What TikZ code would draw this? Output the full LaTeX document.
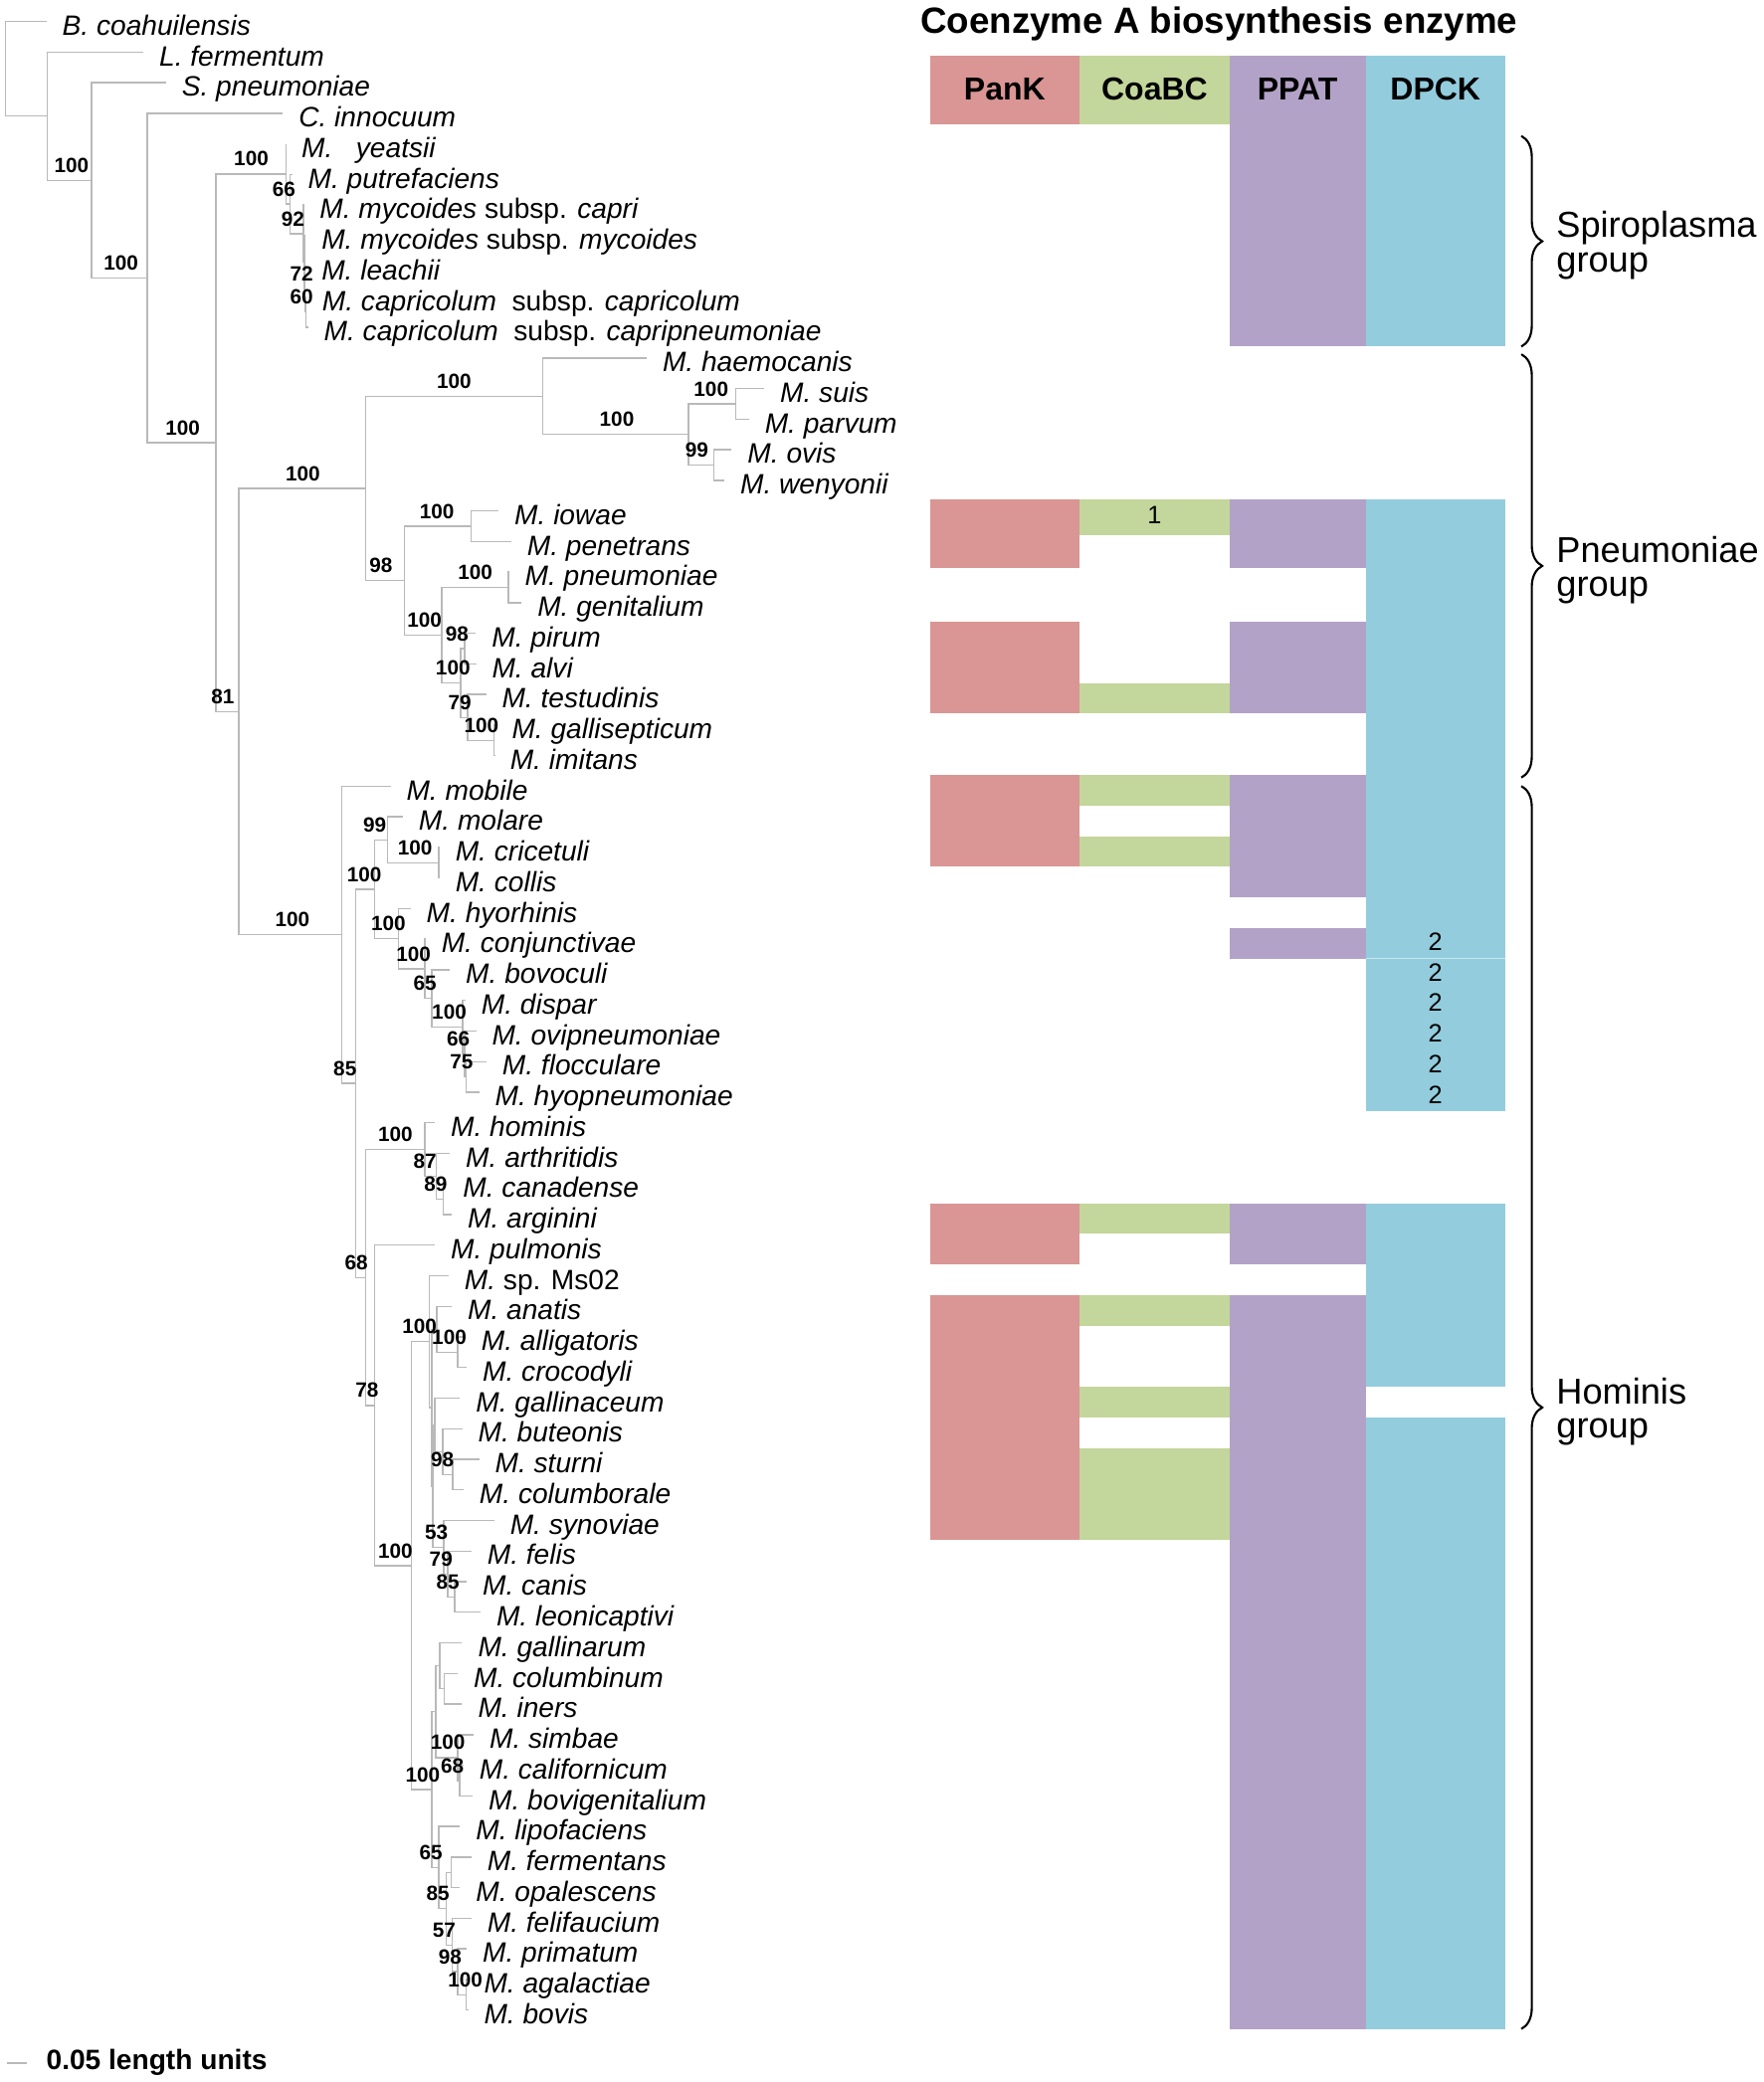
\documentclass[tikz,border=0pt]{standalone}
\usepackage{fontspec}
\setmainfont{Liberation Sans}
\usetikzlibrary{positioning}
\usetikzlibrary{decorations.pathreplacing}

\definecolor{pank}{RGB}{217,150,148}
\definecolor{coabc}{RGB}{195,214,155}
\definecolor{ppat}{RGB}{179,162,199}
\definecolor{dpck}{RGB}{147,205,221}
\definecolor{branchgray}{RGB}{185,185,185}

\begin{document}
\begin{tikzpicture}
    [x=0.13343mm, y=-3.07423mm,
    branch/.style={draw=branchgray, line width=0.4pt},
    taxon/.style={anchor=base west, inner sep=0pt, xshift=1.53mm, yshift=-1.37mm,
      font=\fontsize{8}{9.6}\selectfont\itshape},
    boot/.style={anchor=south, inner sep=0pt, yshift=0.7mm,
      font=\fontsize{5.9}{7}\selectfont\bfseries},
    enzyme/.style={anchor=base, inner sep=0pt, font=\fontsize{9.1}{11}\selectfont\bfseries},
    copies/.style={anchor=base, inner sep=0pt, font=\fontsize{7.2}{8}\selectfont},
    group/.style={anchor=west, inner sep=0pt, align=left, font=\fontsize{10.3}{9.7}\selectfont},
    groupbrace/.style={decorate, decoration={brace, amplitude=2.1mm}, line width=0.6pt}]
  \useasboundingbox (0,0.2995) rectangle (1328,68.355);

  % enzyme table
  \node[anchor=base, inner sep=0pt, font=\fontsize{10.45}{12}\selectfont\bfseries] (title)
    at (918,1.385) {Coenzyme A biosynthesis enzyme};
  \fill[pank] (700.4,2.109) rectangle (812.9,4.358);
  \fill[coabc] (812.9,2.109) rectangle (925.9,4.358);
  \fill[ppat] (925.9,2.109) rectangle (1028.4,11.629);
  \fill[dpck] (1028.4,2.109) rectangle (1133.4,11.629);
  \foreach \ya/\yb in {16.629/18.88, 20.629/23.629, 25.629/28.629, 39.629/41.629, 42.629/50.629}
    \fill[pank] (700.4,\ya) rectangle (812.9,\yb);
  \foreach \ya/\yb in {16.629/17.79, 22.629/23.629, 25.629/26.629, 27.629/28.629,
      39.629/40.629, 42.629/43.629, 45.629/46.629, 47.629/50.629}
    \fill[coabc] (812.9,\ya) rectangle (925.9,\yb);
  \foreach \ya/\yb in {16.629/18.88, 20.629/23.629, 25.629/29.629, 30.629/31.629,
      39.629/41.629, 42.629/66.629}
    \fill[ppat] (925.9,\ya) rectangle (1028.4,\yb);
  \foreach \ya/\yb in {16.629/31.629, 31.629/36.629, 39.629/45.629, 46.629/66.629}
    \fill[dpck] (1028.4,\ya) rectangle (1133.4,\yb);
  \draw[white, opacity=0.5, line width=0.3pt] (1028.4,31.629) -- (1133.4,31.629);
  \node[enzyme] (hpank) at (756.6,3.555) {PanK};
  \node[enzyme] (hcoabc) at (869.4,3.555) {CoaBC};
  \node[enzyme] (hppat) at (977.1,3.555) {PPAT};
  \node[enzyme] (hdpck) at (1080.9,3.555) {DPCK};
  \node[copies] (c17) at (869.4,17.42) {1};
  \foreach \row in {31,...,36}
    \node[copies] (d\row) at (1080.9,{\row+0.36}) {2};

  % groups
  \coordinate (spiro1) at (1145.6,4.744);
  \coordinate (spiro2) at (1145.6,11.628);
  \coordinate (pneu1) at (1145.6,11.879);
  \coordinate (pneu2) at (1145.6,25.717);
  \coordinate (homi1) at (1145.6,25.994);
  \coordinate (homi2) at (1145.6,66.62);
  \draw[groupbrace] (spiro1) -- (spiro2);
  \draw[groupbrace] (pneu1) -- (pneu2);
  \draw[groupbrace] (homi1) -- (homi2);
  \node[group] (gspiro) at (1171.5,8.32) {Spiroplasma\\group};
  \node[group] (gpneu) at (1171.5,18.93) {Pneumoniae\\group};
  \node[group] (ghomi) at (1171.5,46.44) {Hominis\\group};

  % leaves
  \foreach \row/\x/\txt in {1/35/{B. coahuilensis}, 2/108/{L. fermentum}, 3/125/{S. pneumoniae},
      4/213/{C. innocuum}, 5/215.2/{M.\ \ \ yeatsii}, 6/220/{M. putrefaciens},
      7/228.8/{M. mycoides \upshape subsp. \itshape capri},
      8/230.2/{M. mycoides \upshape subsp. \itshape mycoides},
      9/230.2/{M. leachii},
      10/230.7/{M. capricolum\ \ \upshape subsp. \itshape capricolum},
      11/232/{M. capricolum\ \ \upshape subsp. \itshape capripneumoniae},
      12/487/{M. haemocanis}, 13/575.5/{M. suis}, 14/564/{M. parvum}, 15/551/{M. ovis},
      16/545.5/{M. wenyonii}, 17/375.5/{M. iowae}, 18/385/{M. penetrans},
      19/383.3/{M. pneumoniae}, 20/392.8/{M. genitalium}, 21/358.4/{M. pirum},
      22/358.5/{M. alvi}, 23/366/{M. testudinis}, 24/373.5/{M. gallisepticum},
      25/372.2/{M. imitans}, 26/294.1/{M. mobile}, 27/303.4/{M. molare},
      28/331/{M. cricetuli}, 29/331/{M. collis}, 30/309.2/{M. hyorhinis},
      31/320.5/{M. conjunctivae}, 32/338.8/{M. bovoculi}, 33/350.5/{M. dispar},
      34/358.5/{M. ovipneumoniae}, 35/366.3/{M. flocculare}, 36/360.8/{M. hyopneumoniae},
      37/327.5/{M. hominis}, 38/338.8/{M. arthritidis}, 39/336.7/{M. canadense},
      40/340.2/{M. arginini}, 41/327.5/{M. pulmonis}, 42/337.8/{M. \upshape sp. Ms02},
      43/340.2/{M. anatis}, 44/350.5/{M. alligatoris}, 45/351.5/{M. crocodyli},
      46/346.4/{M. gallinaceum}, 47/348.1/{M. buteonis}, 48/360.8/{M. sturni},
      49/349.1/{M. columborale}, 50/372.2/{M. synoviae}, 51/355/{M. felis},
      52/351.5/{M. canis}, 53/361.9/{M. leonicaptivi}, 54/348/{M. gallinarum},
      55/344.7/{M. columbinum}, 56/348/{M. iners}, 57/356.7/{M. simbae},
      58/349/{M. californicum}, 59/356/{M. bovigenitalium}, 60/346.4/{M. lipofaciens},
      61/355/{M. fermentans}, 62/346.4/{M. opalescens}, 63/355/{M. felifaucium},
      64/351.5/{M. primatum}, 65/352.5/{M. agalactiae}, 66/352.5/{M. bovis}} {
    \coordinate (l\row) at (\x,\row);
    \node[taxon] (t\row) at (l\row) {\txt};
  }

  % inner nodes
  \foreach \n/\x/\y in {R/4.3/2.548, Na/35.7/4.096, Nb/68.8/6.193, Nc/111/9.386,
      Nd/162.6/14.773, Sa/215.2/5.984, Sb/218.6/6.969, Sc/228.6/7.938, Sd/229.3/8.875,
      Se/229.8/9.75, Sf/230.3/10.5, Ne/179.8/23.561, Pa/275.3/16.266, N8/408.6/13.25,
      N10/518.3/14.5, N11/554/13.5, N12/537.6/15.5, N9/304.5/19.281, N13/354.8/17.5,
      N14/332.5/21.063, N15/382.8/19.5, N16/347/22.625, N17/350/21.5, N18/352/23.75,
      N19/372/24.5, Ha/257.4/30.856, N21/267.7/35.712, N22/282.2/29.367,
      N23/291.8/27.75, N25/330.4/28.5, N24/300/30.984, N26/320/31.969, N27/325/32.938,
      N28/348.3/33.875, N29/350/34.75, N30/351/35.5, N68/275.3/42.057, N31/320/37.875,
      N33/328.6/38.75, N34/333.8/39.5, N32/282.2/46.238, N35/309.7/51.477,
      N36/323.5/44.156, N38/325/46.313, N40/329/43.75, N39/344.7/44.5, N47/326/48.875,
      N43/327.5/46.875, N42/333.5/47.75, N41/341/48.5, N46/334/50.875, N45/337.2/51.75,
      N44/342.4/52.5, N37/325.2/58.797, P5/328/56.25, P2/331/54.75, P1/334.7/55.5,
      P4/344.7/57.75, P3/346/58.5, P11/330.5/61.344, P7/336/62.688, P6/339.7/61.5,
      P8/340.5/63.875, P9/344.7/64.75, P10/351/65.5}
    \coordinate (\n) at (\x,\y);

  % branches
  \foreach \p/\kid in {R/l1, R/Na, Na/l2, Na/Nb, Nb/l3, Nb/Nc, Nc/l4, Nc/Nd, Nd/Sa, Nd/Ne,
      Sa/l5, Sa/Sb, Sb/l6, Sb/Sc, Sc/l7, Sc/Sd, Sd/l8, Sd/Se, Se/l9, Se/Sf, Sf/l10, Sf/l11,
      Ne/Pa, Ne/Ha, Pa/N8, Pa/N9, N8/l12, N8/N10, N10/N11, N10/N12, N11/l13, N11/l14,
      N12/l15, N12/l16, N9/N13, N9/N14, N13/l17, N13/l18, N14/N15, N14/N16, N15/l19,
      N15/l20, N16/N17, N16/N18, N17/l21, N17/l22, N18/l23, N18/N19, N19/l24, N19/l25,
      Ha/l26, Ha/N21, N21/N22, N21/N68, N22/N23, N22/N24, N23/l27, N23/N25, N25/l28,
      N25/l29, N24/l30, N24/N26, N26/l31, N26/N27, N27/l32, N27/N28, N28/l33, N28/N29,
      N29/l34, N29/N30, N30/l35, N30/l36, N68/N31, N68/N32, N31/l37, N31/N33, N33/l38,
      N33/N34, N34/l39, N34/l40, N32/l41, N32/N35, N35/N36, N35/N37, N36/l42, N36/N38,
      N38/N40, N38/N47, N40/l43, N40/N39, N39/l44, N39/l45, N47/N43, N47/N46, N43/l46,
      N43/N42, N42/l47, N42/N41, N41/l48, N41/l49, N46/l50, N46/N45, N45/l51, N45/N44,
      N44/l52, N44/l53, N37/P5, N37/P11, P5/P2, P5/P4, P2/l54, P2/P1, P1/l55, P1/l56,
      P4/l57, P4/P3, P3/l58, P3/l59, P11/l60, P11/P7, P7/P6, P7/P8, P6/l61, P6/l62,
      P8/l63, P8/P9, P9/l64, P9/P10, P10/l65, P10/l66}
    \draw[branch] (\p) |- (\kid);

  % bootstrap values
  \foreach \n/\lx/\val in {Nb/53.8/100, Nc/91.2/100, Nd/137.6/100, Sa/189.2/100,
      Sb/213.8/66, Sc/220.6/92, Se/227.1/72, Sf/227.1/60, Ne/167.7/81, Pa/228/100,
      N8/341.9/100, N10/464.5/100, N11/535.5/100, N12/524.7/99, N9/286.9/98,
      N13/329/100, N14/319.6/100, N15/357.8/100, N16/341.1/100, N17/344.1/98,
      N18/346.2/79, N19/362.6/100, Ha/220.2/100, N21/259.8/85, N22/274.3/100,
      N23/282.2/99, N25/312.5/100, N24/292.5/100, N26/311.4/100, N27/320/65,
      N28/338.3/100, N29/345.1/66, N30/347.6/75, N68/268.4/68, N31/297.7/100,
      N33/320/87, N34/328/89, N32/276.3/78, N35/297.7/100, N36/315.9/100,
      N39/338.3/100, N41/333.1/98, N46/328.6/53, N45/332.1/79, N44/337.2/85,
      N37/318.3/100, P4/337.2/100, P3/340.7/68, P11/324.5/65, P7/329.7/85,
      P8/334.5/57, P9/339/98, P10/350.3/100}
    \node[boot] (b\n) at (\n -| \lx,0) {\val};

  % scale
  \coordinate (s1) at (5.2,67.74);
  \coordinate (s2) at (20.6,67.74);
  \draw[branch] (s1) -- (s2);
  \node[anchor=base west, inner sep=0pt, font=\fontsize{8}{9.6}\selectfont\bfseries] (scale)
    at (34.4,67.96) {0.05 length units};
\end{tikzpicture}
\end{document}
